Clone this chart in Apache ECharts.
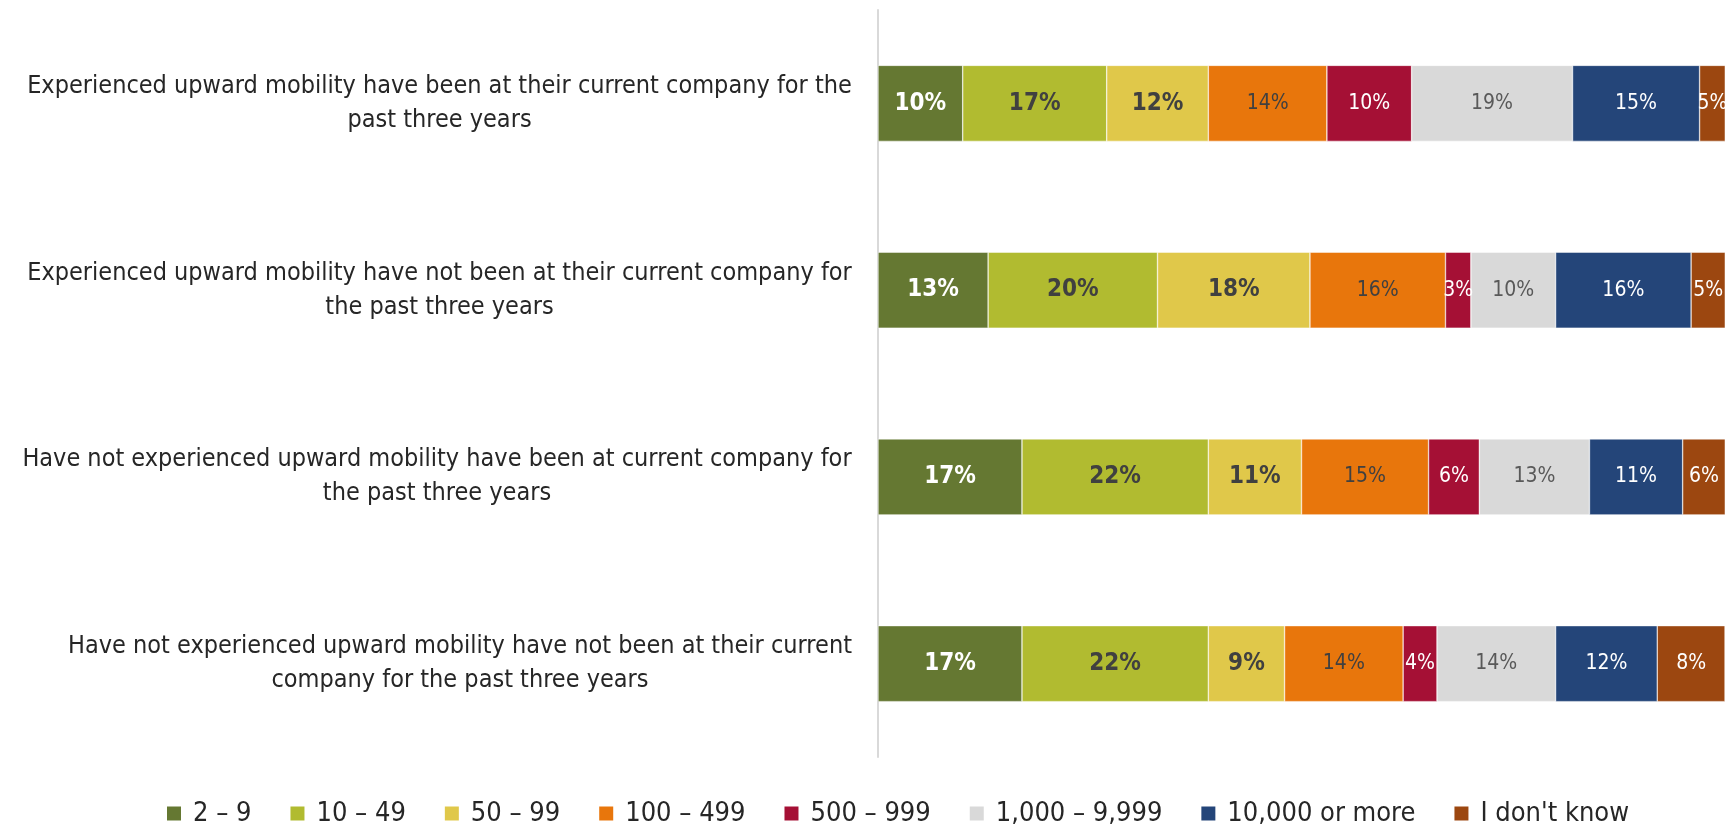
<!DOCTYPE html>
<html>
<head>
<meta charset="utf-8">
<script src="https://cdn.jsdelivr.net/npm/echarts@6/dist/echarts.min.js"></script>
<style>
  html, body { margin: 0; padding: 0; background: #fff; }
  #chart { width: 1725px; height: 824px; }
</style>
</head>
<body>
<div id="chart"></div>
<script>
// category lines, as wrapped in the source chart
const categories = [
  ['Experienced upward mobility have been at their current company for the', 'past three years'],
  ['Experienced upward mobility have not been at their current company for', 'the past three years'],
  ['Have not experienced upward mobility have been at current company for', 'the past three years'],
  ['Have not experienced upward mobility have not been at their current', 'company for the past three years']
]
const seriesNames = ['2 – 9', '10 – 49', '50 – 99', '100 – 499', '500 – 999', '1,000 – 9,999', '10,000 or more', 'I don\'t know']
const size2to9 = [10, 13, 17, 17]
const size10to49 = [17, 20, 22, 22]
const size50to99 = [12, 18, 11, 9]
const size100to499 = [14, 16, 15, 14]
const size500to999 = [10, 3, 6, 4]
const size1000to9999 = [19, 10, 13, 14]
const size10000plus = [15, 16, 11, 12]
const sizeDontKnow = [5, 5, 6, 8]

const values = [size2to9, size10to49, size50to99, size100to499, size500to999, size1000to9999, size10000plus, sizeDontKnow]
const colors = ['#657832', '#b1bb30', '#e0c84a', '#e8760c', '#a51035', '#d9d9d9', '#244579', '#9c4710']
const labelColors = ['#ffffff', '#404040', '#404040', '#404040', '#ffffff', '#595959', '#ffffff', '#ffffff']
const labelWeights = ['bold', 'bold', 'bold', 'normal', 'normal', 'normal', 'normal', 'normal']
const labelSizes = [24, 24, 24, 21, 21, 21, 21, 21]

const FONT = "'Liberation Sans Narrow', 'DejaVu Sans Condensed', 'Open Sans', sans-serif"
const catFontSize = 25

// measure each label block so lines can be centred inside a right-aligned block
const ctx = document.createElement('canvas').getContext('2d')
ctx.font = catFontSize + 'px ' + FONT
const rich = {}
categories.forEach((lines, i) => {
  const w = Math.max(...lines.map(l => ctx.measureText(l).width))
  rich['c' + i] = { width: Math.ceil(w), align: 'center', fontSize: catFontSize, lineHeight: 34, color: '#262626', fontFamily: FONT }
})

const chart = echarts.init(document.getElementById('chart'))
const option = {
  animation: false,
  textStyle: { fontFamily: FONT },
  legend: {
    top: 795,
    left: 160,
    itemWidth: 16,
    itemHeight: 16,
    itemGap: 37,
    icon: 'rect',
    textStyle: { fontSize: 27, color: '#262626', fontFamily: FONT, padding: [0, 0, 0, 6] },
    data: seriesNames
  },
  grid: {
    left: 878,
    right: -10,
    top: 10,
    bottom: 67,
    containLabel: false
  },
  xAxis: {
    type: 'value',
    min: 0,
    max: 100,
    show: false
  },
  yAxis: {
    type: 'category',
    inverse: true,
    data: categories.map((_, i) => i),
    axisLine: { show: true, lineStyle: { color: '#d9d9d9', width: 2 } },
    axisTick: { show: false },
    axisLabel: {
      margin: 26,
      align: 'right',
      formatter: (v, i) => categories[i].map(l => '{c' + i + '|' + l + '}').join('\n'),
      rich: rich
    }
  },
  series: values.map((data, s) => ({
    name: seriesNames[s],
    type: 'bar',
    stack: 'total',
    barWidth: 76,
    clip: true,
    itemStyle: { color: colors[s], borderColor: '#ffffff', borderWidth: 0.5 },
    label: {
      show: true,
      position: 'inside',
      formatter: p => p.value + '%',
      color: labelColors[s],
      fontWeight: labelWeights[s],
      fontSize: labelSizes[s],
      fontFamily: FONT
    },
    data: data
  }))
}
chart.setOption(option)
</script>
</body>
</html>
